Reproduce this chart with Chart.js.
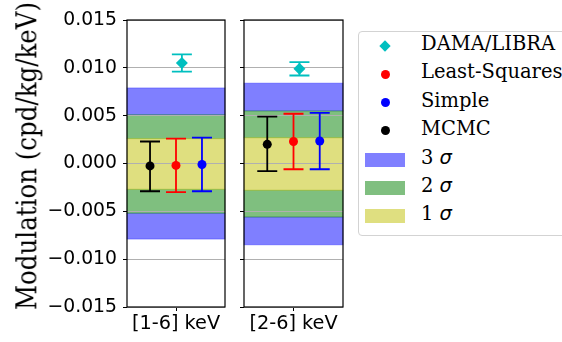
<!DOCTYPE html>
<html>
<head>
<meta charset="utf-8">
<script src="https://cdn.jsdelivr.net/npm/chart.js@4.4.1/dist/chart.umd.min.js"></script>
<style>
    html, body { margin: 0; padding: 0; background: #fff; }
    body { width: 562px; height: 342px; position: relative; overflow: hidden; }
    canvas { position: absolute; top: 0; }
    #p1 { left: 0; }
    #p2 { left: 232px; }
    #ytitle {
        position: absolute; left: 27px; top: 156px;
        font: 24.5px "DejaVu Serif"; white-space: nowrap; color: #000;
        transform: translate(-50%, -50%) rotate(-90deg) scaleY(1.15);
    }
    #legend {
        position: absolute; left: 358px; top: 31px; width: 240px; height: 203px;
        border: 1px solid #d3d3d3; border-radius: 4px; background: #fff;
    }
    .lbl { position: absolute; left: 421px; height: 28px; line-height: 28px; font: 19.5px "DejaVu Serif"; white-space: nowrap; }
    .lbl i { font-family: "DejaVu Sans"; }
    .dot { position: absolute; width: 9px; height: 9px; border-radius: 50%; left: 380.5px; }
    .dia { position: absolute; width: 8px; height: 8px; left: 381px; transform: rotate(45deg); background: #00bfbf; }
    .patch { position: absolute; left: 365px; width: 40px; height: 14px; }
</style>
</head>
<body>
<canvas id="p1" width="236" height="342"></canvas>
<canvas id="p2" width="120" height="342"></canvas>
<div id="ytitle">Modulation (cpd/kg/keV)</div>

<div id="legend"></div>
<div class="dia" style="top:42px"></div>
<div class="lbl" style="top:32px">DAMA/LIBRA</div>
<div class="dot" style="top:70px;background:#ff0000"></div>
<div class="lbl" style="top:60px">Least-Squares</div>
<div class="dot" style="top:98px;background:#0000ff"></div>
<div class="lbl" style="top:88.5px">Simple</div>
<div class="dot" style="top:126px;background:#000"></div>
<div class="lbl" style="top:117px">MCMC</div>
<div class="patch" style="top:153px;background:#8080ff"></div>
<div class="lbl" style="top:145.5px">3 <i>σ</i></div>
<div class="patch" style="top:181px;background:#80bf80"></div>
<div class="lbl" style="top:174px">2 <i>σ</i></div>
<div class="patch" style="top:209px;background:#dfdf80"></div>
<div class="lbl" style="top:202px">1 <i>σ</i></div>

<script>
const categories = ["[1-6] keV", "[2-6] keV"];
const yTicks = [-0.015, -0.010, -0.005, 0.000, 0.005, 0.010, 0.015];

// measured points and their error bar ends
const damaValue = [0.0105, 0.0099];
const damaLow = [0.0096, 0.0092];
const damaHigh = [0.0114, 0.0106];

const lsqValue = [-0.0002, 0.0023];
const lsqLow = [-0.0030, -0.0006];
const lsqHigh = [0.0026, 0.0052];

const simpleValue = [-0.0001, 0.00235];
const simpleLow = [-0.0029, -0.0006];
const simpleHigh = [0.0027, 0.0053];

const mcmcValue = [-0.00025, 0.0020];
const mcmcLow = [-0.0029, -0.0008];
const mcmcHigh = [0.0023, 0.0049];

// sigma bands
const sigma1Low = [-0.0027, -0.0028];
const sigma1High = [0.0026, 0.0027];
const sigma2Low = [-0.0052, -0.0056];
const sigma2High = [0.0051, 0.0055];
const sigma3Low = [-0.0079, -0.0085];
const sigma3High = [0.0079, 0.0084];

function fmt(v) {
    if (Math.abs(v) < 1e-9) v = 0;
    const s = Math.abs(v).toFixed(3);
    return v < 0 ? "\u2212" + s : s;
}

function makePanel(id, i, first) {
    const bandsPlugin = {
        id: "bands",
        beforeDraw(chart) {
            const { ctx, chartArea: a, scales: { y } } = chart;
            const regions = [
                [sigma2High[i], sigma3High[i], "0,0,255"],
                [sigma3Low[i], sigma2Low[i], "0,0,255"],
                [sigma1High[i], sigma2High[i], "0,128,0"],
                [sigma2Low[i], sigma1Low[i], "0,128,0"],
                [sigma1Low[i], sigma1High[i], "191,191,0"]
            ];
            ctx.save();
            regions.forEach(([lo, hi, c]) => {
                const top = y.getPixelForValue(hi);
                const bot = y.getPixelForValue(lo);
                ctx.fillStyle = `rgba(${c},0.5)`;
                ctx.fillRect(a.left, top, a.right - a.left, bot - top);
                ctx.strokeStyle = `rgba(${c},0.3)`;
                ctx.lineWidth = 1;
                ctx.strokeRect(a.left, top, a.right - a.left, bot - top);
            });
            ctx.restore();
        }
    };

    const errorBars = {
        id: "errorBars",
        beforeDatasetsDraw(chart) {
            const { ctx, scales: { x, y } } = chart;
            chart.data.datasets.forEach(ds => {
                ds.data.forEach((p, k) => {
                    const px = x.getPixelForValue(p.x);
                    const lo = y.getPixelForValue(ds.errLow[k]);
                    const hi = y.getPixelForValue(ds.errHigh[k]);
                    ctx.save();
                    ctx.strokeStyle = ds.barColor;
                    ctx.lineWidth = 1.8;
                    ctx.beginPath();
                    ctx.moveTo(px, lo); ctx.lineTo(px, hi);
                    ctx.moveTo(px - 10, lo); ctx.lineTo(px + 10, lo);
                    ctx.moveTo(px - 10, hi); ctx.lineTo(px + 10, hi);
                    ctx.stroke();
                    ctx.restore();
                });
            });
        }
    };

    const frame = {
        id: "frame",
        afterDatasetsDraw(chart) {
            const { ctx, chartArea: a } = chart;
            ctx.save();
            ctx.strokeStyle = "#000";
            ctx.lineWidth = 1.2;
            ctx.strokeRect(a.left, a.top, a.right - a.left, a.bottom - a.top);
            ctx.restore();
        }
    };

    const point = (label, xOff, val, lo, hi, color, style, r) => ({
        label,
        data: [{ x: xOff, y: val[i] }],
        errLow: [lo[i]],
        errHigh: [hi[i]],
        barColor: color,
        backgroundColor: color,
        borderWidth: 0,
        pointStyle: style,
        pointRadius: r
    });

    new Chart(document.getElementById(id), {
        type: "scatter",
        data: {
            datasets: [
                point("DAMA/LIBRA", 0.12, damaValue, damaLow, damaHigh, "#00bfbf", "rectRot", 6),
                point("Least-Squares", 0, lsqValue, lsqLow, lsqHigh, "#ff0000", "circle", 4.5),
                point("Simple", 0.53, simpleValue, simpleLow, simpleHigh, "#0000ff", "circle", 4.5),
                point("MCMC", -0.53, mcmcValue, mcmcLow, mcmcHigh, "#000000", "circle", 4.5)
            ]
        },
        options: {
            responsive: false,
            animation: false,
            layout: { padding: { top: 20, right: first ? 11 : 9, bottom: 0, left: 0 } },
            plugins: { legend: { display: false }, tooltip: { enabled: false } },
            scales: {
                x: {
                    type: "linear",
                    min: -1,
                    max: 1,
                    afterBuildTicks: s => { s.ticks = [{ value: 0 }]; },
                    afterFit: s => { s.height = 35; },
                    ticks: {
                        callback: () => categories[i],
                        font: { family: "DejaVu Sans", size: 19.3 },
                        color: "#000",
                        padding: 1,
                        maxRotation: 0
                    },
                    grid: { drawOnChartArea: false, tickLength: 4, tickColor: "#000", tickWidth: 1 },
                    border: { display: false }
                },
                y: {
                    min: -0.015,
                    max: 0.015,
                    afterBuildTicks: s => { s.ticks = yTicks.map(v => ({ value: v })); },
                    afterFit: s => { s.width = first ? 127 : 12; },
                    ticks: {
                        callback: v => first ? fmt(v) : "",
                        font: { family: "DejaVu Sans", size: 18.8 },
                        color: "#000",
                        padding: 6
                    },
                    grid: { color: "#b0b0b0", lineWidth: 1, tickLength: 4, tickColor: "#000", tickWidth: 1 },
                    border: { display: false }
                }
            }
        },
        plugins: [bandsPlugin, errorBars, frame]
    });
}

makePanel("p1", 0, true);
makePanel("p2", 1, false);
</script>
</body>
</html>
